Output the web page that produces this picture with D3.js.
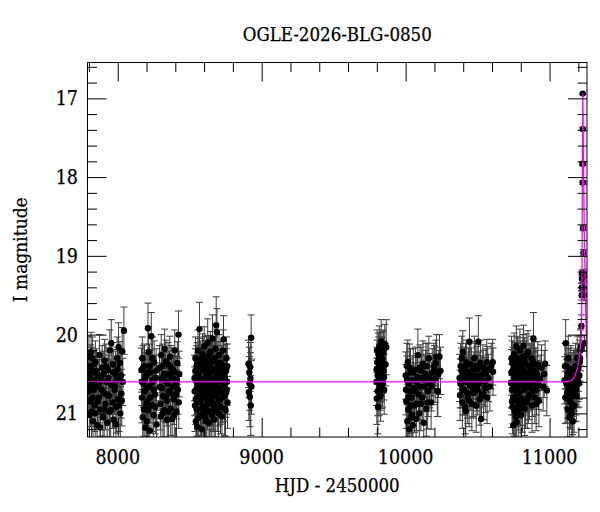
<!DOCTYPE html>
<html>
<head>
<meta charset="utf-8">
<script src="https://cdn.jsdelivr.net/npm/d3@7"></script>
<style>
    body { margin: 0; background: #fff; }
    text { font-family: "DejaVu Serif Condensed", "DejaVu Serif", serif; font-stretch: condensed; fill: #000; stroke: #000; stroke-width: 0.25px; }
</style>
</head>
<body>
<svg id="chart"></svg>
<script>
// photometry per observing season: [HJD - 2450000, I mag, error]
const season1 = [[7796,20.72,0.30],[7800,20.28,0.26],[7803,21.02,0.34],[7806,20.55,0.29],[7809,20.85,0.32],[7812,20.40,0.27],[7815,20.22,0.25],[7818,20.98,0.34],[7821,20.62,0.30],[7824,20.30,0.27],[7828,21.10,0.36],[7832,20.70,0.31],[7836,20.48,0.28],[7840,20.90,0.33],[7845,20.35,0.27],[7850,20.66,0.30],[7856,21.15,0.37],[7862,20.52,0.29],[7868,20.80,0.32],[7874,20.26,0.26],[7880,20.95,0.34],[7886,20.58,0.30],[7892,20.42,0.28],[7897,21.05,0.35],[7903,20.74,0.31],[7909,20.33,0.27],[7915,20.88,0.33],[7921,20.60,0.30],[7927,21.12,0.36],[7933,20.45,0.28],[7939,20.78,0.32],[7945,20.20,0.26],[7951,20.96,0.34],[7955,20.11,0.30],[7960,20.64,0.30],[7966,20.38,0.28],[7972,21.08,0.35],[7978,20.70,0.31],[7984,20.50,0.29],[7990,20.92,0.33],[7996,20.30,0.27],[8002,20.82,0.32],[8006,20.16,0.31],[8012,20.56,0.29],[8018,21.00,0.34],[8025,20.75,0.31],[8031,20.21,0.30],[8036,20.60,0.30],[8043,19.95,0.30],
    [7798,20.50,0.29],[7808,20.66,0.30],[7817,20.44,0.28],[7826,20.80,0.32],[7834,20.58,0.30],[7843,21.00,0.35],[7853,20.46,0.28],[7859,20.85,0.33],[7871,20.62,0.30],[7877,21.18,0.38],[7889,20.70,0.31],[7900,20.50,0.29],[7906,20.95,0.34],[7918,20.40,0.28],[7924,20.76,0.32],[7936,20.55,0.29],[7942,20.98,0.35],[7948,20.62,0.30],[7963,20.86,0.33],[7969,20.48,0.29],[7981,20.66,0.31],[7987,21.14,0.37],[7993,20.58,0.30],[7999,20.44,0.28],[8009,20.90,0.33],[8015,20.36,0.27],[8022,20.52,0.29],[8028,20.84,0.32]];
const season2 = [[8165,20.45,0.28],[8168,20.80,0.32],[8171,20.30,0.27],[8174,21.05,0.35],[8178,20.62,0.30],[8182,20.95,0.34],[8186,20.40,0.28],[8190,21.18,0.38],[8194,20.70,0.31],[8198,20.52,0.29],[8202,21.10,0.36],[8206,20.85,0.32],[8210,19.92,0.32],[8215,20.22,0.32],[8219,20.66,0.30],[8223,21.22,0.38],[8228,20.48,0.28],[8233,20.02,0.30],[8238,20.90,0.33],[8243,20.58,0.30],[8248,21.02,0.35],[8253,20.35,0.27],[8258,20.76,0.31],[8264,20.55,0.29],[8270,21.14,0.37],[8290,20.42,0.28],[8296,20.88,0.33],[8302,20.26,0.26],[8308,20.68,0.31],[8314,21.00,0.34],[8320,20.50,0.29],[8326,20.18,0.25],[8332,20.80,0.32],[8338,20.60,0.30],[8344,21.08,0.36],[8350,20.38,0.28],[8356,20.72,0.31],[8362,20.28,0.26],[8368,20.94,0.34],[8374,20.55,0.29],[8378,21.07,0.36],[8384,20.45,0.28],[8390,20.82,0.32],[8396,20.20,0.26],[8402,20.64,0.30],[8408,20.98,0.34],[8414,20.36,0.27],[8418,20.70,0.31],[8422,20.00,0.30],[8427,20.50,0.29],
    [8167,20.60,0.30],[8176,20.42,0.28],[8184,20.72,0.31],[8192,20.55,0.29],[8200,20.88,0.33],[8208,20.48,0.28],[8213,20.96,0.34],[8221,20.40,0.28],[8226,20.80,0.32],[8236,20.62,0.30],[8241,20.30,0.27],[8251,20.70,0.31],[8261,20.92,0.34],[8267,20.46,0.28],[8293,20.66,0.30],[8299,21.04,0.36],[8305,20.56,0.29],[8311,20.40,0.28],[8317,20.78,0.32],[8323,20.96,0.34],[8329,20.52,0.29],[8335,20.34,0.27],[8341,20.84,0.32],[8347,20.62,0.30],[8353,20.98,0.35],[8359,20.50,0.29],[8365,20.74,0.31],[8371,20.42,0.28],[8381,20.66,0.30],[8387,20.56,0.29],[8393,21.02,0.35],[8399,20.48,0.29],[8405,20.76,0.31],[8411,20.58,0.30],[8424,20.86,0.33]];
const season3 = [[8534,20.55,0.29],[8537,20.90,0.33],[8540,20.30,0.27],[8543,21.10,0.36],[8546,20.70,0.31],[8549,20.42,0.28],[8552,21.17,0.38],[8555,20.62,0.30],[8558,20.20,0.26],[8561,20.85,0.32],[8564,20.48,0.28],[8568,19.93,0.34],[8571,20.75,0.31],[8574,21.02,0.35],[8577,20.35,0.27],[8580,20.58,0.30],[8583,21.20,0.38],[8586,20.66,0.30],[8589,20.25,0.26],[8592,20.92,0.33],[8595,20.45,0.28],[8598,20.80,0.32],[8601,20.15,0.25],[8604,20.60,0.30],[8607,21.05,0.35],[8610,20.38,0.28],[8613,20.72,0.31],[8616,20.28,0.26],[8619,20.96,0.34],[8622,20.52,0.29],[8625,20.10,0.30],[8628,20.84,0.32],[8631,20.64,0.30],[8634,21.12,0.37],[8637,20.40,0.28],[8640,20.78,0.32],[8643,20.22,0.26],[8646,20.56,0.29],[8649,20.98,0.34],[8652,20.34,0.27],[8655,20.70,0.31],[8658,20.05,0.30],[8661,20.88,0.33],[8664,20.46,0.28],[8667,20.62,0.30],[8670,21.08,0.36],[8673,20.30,0.27],[8676,20.76,0.31],[8679,20.18,0.25],[8682,20.54,0.29],[8684,19.88,0.36],[8689,19.97,0.30],[8692,20.90,0.33],[8695,20.42,0.28],[8698,20.68,0.31],[8701,21.00,0.35],[8704,20.26,0.26],[8708,20.58,0.30],[8712,20.82,0.32],[8716,20.36,0.27],[8720,20.72,0.31],[8724,21.04,0.35],[8728,20.48,0.28],[8732,20.20,0.26],[8735,20.06,0.30],[8739,20.64,0.30],[8743,20.94,0.34],[8747,20.40,0.28],[8751,20.74,0.31],[8755,20.30,0.27],[8759,20.60,0.30],[8763,20.86,0.33],
    [8535,20.72,0.31],[8539,20.46,0.28],[8542,20.82,0.32],[8545,20.58,0.30],[8548,20.95,0.34],[8551,20.38,0.28],[8554,20.80,0.32],[8557,20.52,0.29],[8560,21.06,0.36],[8563,20.66,0.30],[8566,20.32,0.27],[8570,20.58,0.30],[8573,20.44,0.28],[8576,20.86,0.33],[8579,20.70,0.31],[8582,20.40,0.28],[8585,20.94,0.34],[8588,20.56,0.29],[8591,20.74,0.31],[8594,20.30,0.27],[8597,21.00,0.35],[8600,20.62,0.30],[8603,20.44,0.28],[8606,20.80,0.32],[8609,20.55,0.29],[8612,21.10,0.37],[8615,20.48,0.28],[8618,20.70,0.31],[8621,20.36,0.27],[8624,20.88,0.33],[8627,20.60,0.30],[8630,20.28,0.27],[8633,20.76,0.31],[8636,20.52,0.29],[8639,20.98,0.35],[8642,20.66,0.30],[8645,20.42,0.28],[8648,20.82,0.32],[8651,20.58,0.30],[8654,21.02,0.35],[8657,20.46,0.28],[8660,20.72,0.31],[8663,20.34,0.27],[8666,20.90,0.33],[8669,20.56,0.29],[8672,20.78,0.32],[8675,20.44,0.28],[8678,20.96,0.34],[8681,20.62,0.30],[8686,20.50,0.29],[8690,20.74,0.31],[8694,20.60,0.30],[8697,20.36,0.27],[8700,20.84,0.32],[8703,20.54,0.29],[8706,20.72,0.31],[8710,20.46,0.28],[8714,20.92,0.34],[8718,20.58,0.30],[8722,20.42,0.28],[8726,20.80,0.32],[8730,20.62,0.30],[8737,20.50,0.29],[8741,20.78,0.32],[8745,20.56,0.30],[8749,20.96,0.34],[8753,20.46,0.28],[8757,20.70,0.31],[8761,20.40,0.28]];
const season4 = [[8909,20.37,0.30],[8911,20.73,0.36],[8914,20.48,0.32],[8916,20.62,0.34],[8918,20.79,0.38],[8920,20.41,0.31],[8922,20.56,0.33],[8924,20.90,0.38],[8927,20.04,0.29],[8929,20.66,0.35]];
const season5 = [[9797,20.60,0.30],[9800,20.81,0.33],[9803,20.35,0.28],[9806,20.72,0.31],[9808,20.92,0.34],[9811,20.25,0.27],[9814,20.50,0.29],[9817,20.15,0.26],[9820,20.66,0.30],[9823,20.42,0.28],[9826,20.78,0.32],[9830,20.09,0.28],[9833,20.56,0.29],[9836,20.30,0.27],[9840,20.62,0.30],[9843,20.20,0.26],[9847,20.46,0.28],[9851,20.70,0.31],[9855,20.12,0.25],[9860,20.38,0.27],[9865,20.16,0.35],
    [9799,20.44,0.28],[9802,20.20,0.26],[9805,20.52,0.29],[9809,20.60,0.30],[9813,20.30,0.27],[9816,20.72,0.31],[9819,20.40,0.28],[9822,20.56,0.29],[9825,20.24,0.27],[9828,20.48,0.28],[9832,20.32,0.27],[9835,20.64,0.30],[9838,20.46,0.28],[9842,20.36,0.27],[9846,20.22,0.26],[9850,20.54,0.29]];
const season6 = [[10001,20.52,0.30],[10005,20.85,0.34],[10008,20.40,0.29],[10012,21.10,0.38],[10015,20.35,0.28],[10018,20.95,0.35],[10022,20.62,0.31],[10026,21.20,0.40],[10030,20.72,0.32],[10034,20.48,0.30],[10038,21.05,0.37],[10042,20.80,0.33],[10046,20.58,0.31],[10050,21.15,0.39],[10056,20.68,0.32],[10062,20.90,0.34],[10068,20.45,0.29],[10073,21.07,0.37],[10078,20.60,0.31],[10085,20.26,0.33],[10090,20.76,0.32],[10095,21.00,0.36],[10100,20.42,0.29],[10106,20.88,0.34],[10112,20.55,0.30],[10120,20.37,0.29],[10126,21.12,0.38],[10132,20.66,0.32],[10138,20.50,0.30],[10144,20.94,0.35],[10150,20.40,0.29],[10156,20.72,0.32],[10161,20.30,0.28],[10168,20.62,0.31],[10177,20.86,0.34],[10185,20.48,0.30],[10192,20.58,0.31],[10200,20.44,0.30],[10210,20.36,0.29],[10214,20.28,0.28],[10220,20.72,0.32],[10228,20.50,0.30],[10235,20.28,0.28],[10242,20.46,0.30],
    [10003,20.70,0.32],[10010,20.58,0.31],[10020,20.80,0.33],[10028,20.42,0.30],[10036,20.90,0.35],[10044,21.02,0.37],[10053,20.48,0.30],[10065,20.72,0.32],[10076,20.88,0.34],[10082,20.54,0.30],[10098,20.66,0.31],[10109,20.46,0.30],[10116,20.80,0.33],[10129,20.58,0.31],[10141,20.40,0.29],[10153,20.86,0.34],[10165,20.54,0.30],[10181,20.66,0.31],[10196,20.40,0.29],[10205,20.56,0.30],[10224,20.72,0.32]];
const season7 = [[10375,20.55,0.30],[10378,20.77,0.32],[10382,20.40,0.29],[10386,20.62,0.31],[10390,20.30,0.28],[10394,20.86,0.33],[10397,20.22,0.27],[10401,20.50,0.30],[10405,20.70,0.32],[10410,20.45,0.29],[10414,20.92,0.34],[10418,20.97,0.35],[10422,20.35,0.28],[10426,20.60,0.31],[10432,20.80,0.33],[10437,20.48,0.30],[10443,20.09,0.30],[10448,20.65,0.31],[10453,20.38,0.29],[10460,20.88,0.34],[10466,20.56,0.30],[10472,20.74,0.32],[10478,20.30,0.28],[10484,20.62,0.31],[10490,20.90,0.34],[10496,20.44,0.29],[10501,20.70,0.32],[10505,20.09,0.33],[10510,20.52,0.30],[10516,20.82,0.33],[10520,20.36,0.29],[10524,21.07,0.36],[10530,20.58,0.31],[10536,20.42,0.29],[10542,20.76,0.32],[10550,20.60,0.31],[10558,20.48,0.30],[10564,20.35,0.29],[10566,20.80,0.33],[10575,20.55,0.30],[10585,20.66,0.31],[10595,20.40,0.29],[10605,20.35,0.29],[10607,20.47,0.30],
    [10380,20.62,0.31],[10388,20.46,0.29],[10399,20.70,0.32],[10407,20.56,0.30],[10416,20.40,0.29],[10428,20.74,0.32],[10434,20.52,0.30],[10441,20.84,0.33],[10451,20.60,0.31],[10457,20.46,0.29],[10469,20.72,0.32],[10475,20.52,0.30],[10487,20.40,0.29],[10493,20.66,0.31],[10499,20.56,0.30],[10513,20.62,0.31],[10527,20.76,0.32],[10539,20.50,0.30],[10554,20.68,0.31],[10570,20.44,0.29]];
const season8 = [[10733,20.62,0.31],[10736,20.30,0.28],[10739,20.85,0.33],[10742,20.92,0.34],[10745,20.45,0.29],[10748,21.15,0.38],[10751,20.70,0.32],[10754,20.25,0.27],[10757,20.56,0.30],[10760,20.98,0.35],[10763,20.38,0.28],[10766,20.78,0.32],[10769,20.15,0.26],[10772,21.11,0.37],[10775,20.50,0.30],[10778,20.66,0.31],[10781,20.32,0.28],[10784,20.88,0.33],[10787,20.44,0.29],[10790,20.74,0.32],[10794,20.20,0.27],[10798,20.60,0.31],[10802,21.02,0.36],[10806,20.40,0.29],[10810,20.82,0.33],[10815,20.28,0.28],[10819,20.14,0.26],[10823,20.54,0.30],[10827,20.94,0.34],[10831,20.36,0.28],[10835,20.68,0.31],[10840,20.48,0.30],[10845,20.86,0.33],[10850,20.22,0.27],[10855,20.58,0.30],[10860,20.76,0.32],[10866,20.42,0.29],[10872,20.64,0.31],[10878,20.90,0.34],[10884,20.34,0.28],[10888,20.05,0.33],[10893,20.52,0.30],[10898,20.80,0.33],[10904,20.46,0.29],[10910,20.70,0.32],[10918,20.38,0.29],[10926,20.84,0.33],[10934,20.56,0.30],[10944,20.42,0.29],[10955,20.66,0.31],[10963,20.50,0.30],[10969,20.37,0.29],[10981,20.71,0.32],
    [10734,20.48,0.29],[10738,20.70,0.32],[10741,20.36,0.28],[10744,20.62,0.31],[10747,20.80,0.33],[10750,20.50,0.30],[10753,20.94,0.35],[10756,20.42,0.29],[10759,20.68,0.31],[10762,20.56,0.30],[10765,21.04,0.36],[10768,20.60,0.31],[10771,20.40,0.29],[10774,20.84,0.33],[10777,20.30,0.28],[10780,20.72,0.32],[10783,20.54,0.30],[10786,20.96,0.35],[10789,20.58,0.30],[10792,20.46,0.29],[10796,20.82,0.33],[10800,20.36,0.28],[10804,20.64,0.31],[10808,20.52,0.30],[10812,20.90,0.34],[10817,20.44,0.29],[10821,20.70,0.32],[10825,20.32,0.28],[10829,20.60,0.31],[10833,20.86,0.33],[10838,20.26,0.27],[10843,20.62,0.31],[10848,20.50,0.30],[10853,20.80,0.33],[10858,20.40,0.29],[10863,20.66,0.31],[10869,20.54,0.30],[10875,20.30,0.28],[10881,20.72,0.32],[10886,20.46,0.29],[10891,20.62,0.31],[10896,20.38,0.29],[10901,20.58,0.30],[10907,20.88,0.34],[10914,20.50,0.30],[10922,20.64,0.31]];
const season9 = [[11105,20.58,0.30],[11109,20.80,0.33],[11112,20.11,0.30],[11115,20.40,0.29],[11119,20.79,0.33],[11122,20.55,0.30],[11126,20.95,0.35],[11130,20.30,0.28],[11134,20.68,0.32],[11138,21.05,0.36],[11142,20.46,0.29],[11146,20.86,0.34],[11150,20.62,0.31],[11154,21.00,0.36],[11158,20.72,0.32],[11162,21.10,0.37],[11166,20.50,0.30],[11170,20.90,0.34],[11175,20.66,0.31],[11180,20.40,0.29],[11186,20.78,0.32],[11192,20.30,0.28],[11198,20.55,0.30],[11204,20.62,0.30],[11210,20.35,0.28],[11215,20.20,0.26],[11221,19.89,0.14],
    [11107,20.40,0.29],[11117,20.62,0.31],[11124,20.74,0.32],[11128,20.48,0.30],[11136,20.56,0.30],[11140,20.84,0.34],[11144,20.66,0.32],[11148,20.44,0.30],[11152,20.76,0.33],[11156,20.54,0.31],[11160,20.92,0.35],[11164,20.64,0.32],[11168,20.78,0.33],[11172,20.50,0.30],[11178,20.58,0.31],[11183,20.70,0.32],[11189,20.48,0.30],[11195,20.62,0.31],[11201,20.42,0.30],[11207,20.52,0.30],[11212,20.30,0.29],[11218,20.16,0.24]];
const eventPoints = [[11223,19.50,0.06],[11224,19.40,0.05],[11225,19.29,0.05],[11226,19.22,0.04],[11230.5,16.94,0.01],[11231,17.39,0.02],[11229,17.83,0.02],[11232,17.83,0.02],[11231,18.07,0.02],[11233,18.07,0.02],[11233,18.65,0.03],[11235,18.96,0.04],[11236,19.22,0.05],[11237,19.27,0.05],[11238,19.40,0.06],[11240,19.50,0.07],[11243,20.11,0.10]];

// fitted model
const modelHjd = [7790, 11100, 11140, 11160, 11175, 11189, 11200, 11207, 11213, 11218, 11222, 11224, 11226, 11228, 11230, 11231, 11233, 11236, 11240, 11245, 11250, 11255, 11260];
const modelMag = [20.60, 20.60, 20.59, 20.57, 20.53, 20.45, 20.37, 20.28, 20.18, 20.05, 19.85, 19.55, 19.00, 18.00, 17.20, 16.94, 17.30, 17.90, 18.50, 19.10, 19.60, 20.00, 20.30];

const xMajor = [8000, 9000, 10000, 11000];
const xMinor = [7800, 8200, 8400, 8600, 8800, 9200, 9400, 9600, 9800, 10200, 10400, 10600, 10800, 11200];
const yMajor = [17, 18, 19, 20, 21];
const yMinor = [16.6, 16.8, 17.2, 17.4, 17.6, 17.8, 18.2, 18.4, 18.6, 18.8, 19.2, 19.4, 19.6, 19.8, 20.2, 20.4, 20.6, 20.8, 21.2];

const title = "OGLE-2026-BLG-0850";
const xTitle = "HJD - 2450000";
const yTitle = "I magnitude";

const width = 600, height = 512;
const plot = { left: 87.5, right: 587, top: 62.5, bottom: 437 };

const svg = d3.select("#chart")
    .attr("width", width)
    .attr("height", height);

const x = d3.scaleLinear().domain([7790, 11260]).range([plot.left, plot.right]);
const y = d3.scaleLinear().domain([16.545, 21.3]).range([plot.top, plot.bottom]);

svg.append("defs").append("clipPath").attr("id", "clip")
    .append("rect")
    .attr("x", plot.left).attr("y", plot.top)
    .attr("width", plot.right - plot.left).attr("height", plot.bottom - plot.top);

const points = [].concat(season1, season2, season3, season4, season5, season6, season7, season8, season9, eventPoints)
    .map(d => ({ hjd: d[0], mag: d[1], err: d[2] }));

const dataG = svg.append("g").attr("clip-path", "url(#clip)");

// error bars with caps
const capHalf = 3.5;
dataG.append("g")
    .attr("stroke", "#3a3a3a")
    .attr("stroke-width", 1)
    .attr("fill", "none")
    .selectAll("path")
    .data(points)
    .enter().append("path")
    .attr("d", d => {
        const cx = x(d.hjd), y1 = y(d.mag - d.err), y2 = y(d.mag + d.err);
        return `M${cx},${y1}V${y2}M${cx - capHalf},${y1}H${cx + capHalf}M${cx - capHalf},${y2}H${cx + capHalf}`;
    });

dataG.append("g").selectAll("circle")
    .data(points)
    .enter().append("circle")
    .attr("cx", d => x(d.hjd))
    .attr("cy", d => y(d.mag))
    .attr("r", 3.2)
    .attr("fill", "#000");

const line = d3.line()
    .x((d, i) => x(modelHjd[i]))
    .y(d => y(d));

dataG.append("path")
    .datum(modelMag)
    .attr("d", line)
    .attr("fill", "none")
    .attr("stroke", "#ff00ff")
    .attr("stroke-width", 1.3);

// frame
svg.append("rect")
    .attr("x", plot.left).attr("y", plot.top)
    .attr("width", plot.right - plot.left).attr("height", plot.bottom - plot.top)
    .attr("fill", "none")
    .attr("stroke", "#000")
    .attr("stroke-width", 1);

// inward ticks on all four sides
function ticks(axisFn, scale, values, size, transform) {
    const g = svg.append("g")
        .attr("transform", transform)
        .call(axisFn(scale).tickValues(values).tickSize(size).tickFormat(""));
    g.select(".domain").remove();
    g.selectAll(".tick line").attr("stroke", "#000");
}
const bigTick = 19, smallTick = 9.5;
ticks(d3.axisBottom, x, xMajor, -bigTick, `translate(0,${plot.bottom})`);
ticks(d3.axisBottom, x, xMinor, -smallTick, `translate(0,${plot.bottom})`);
ticks(d3.axisTop, x, xMajor, -bigTick, `translate(0,${plot.top})`);
ticks(d3.axisTop, x, xMinor, -smallTick, `translate(0,${plot.top})`);
ticks(d3.axisLeft, y, yMajor, -bigTick, `translate(${plot.left},0)`);
ticks(d3.axisLeft, y, yMinor, -smallTick, `translate(${plot.left},0)`);
ticks(d3.axisRight, y, yMajor, -bigTick, `translate(${plot.right},0)`);
ticks(d3.axisRight, y, yMinor, -smallTick, `translate(${plot.right},0)`);

// tick labels
svg.append("g").selectAll("text")
    .data(xMajor)
    .enter().append("text")
    .attr("x", d => x(d))
    .attr("y", 463.5)
    .attr("text-anchor", "middle")
    .attr("font-size", "19.5px")
    .text(d => d);

svg.append("g").selectAll("text")
    .data(yMajor)
    .enter().append("text")
    .attr("x", 78)
    .attr("y", d => y(d) + 7)
    .attr("text-anchor", "end")
    .attr("font-size", "19.5px")
    .text(d => d);

svg.append("text")
    .attr("x", (plot.left + plot.right) / 2)
    .attr("y", 41)
    .attr("text-anchor", "middle")
    .attr("font-size", "18.5px")
    .text(title);

svg.append("text")
    .attr("x", (plot.left + plot.right) / 2)
    .attr("y", 492)
    .attr("text-anchor", "middle")
    .attr("font-size", "18.5px")
    .text(xTitle);

svg.append("text")
    .attr("transform", `translate(27,${(plot.top + plot.bottom) / 2}) rotate(-90)`)
    .attr("text-anchor", "middle")
    .attr("font-size", "19px")
    .text(yTitle);
</script>
</body>
</html>
